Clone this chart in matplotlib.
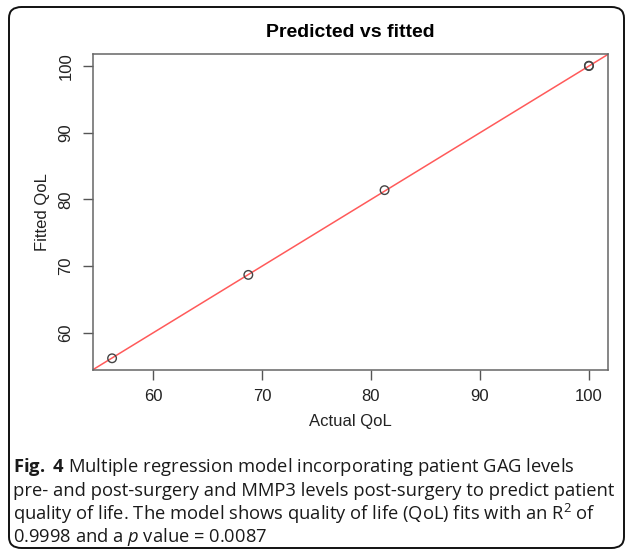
import matplotlib
matplotlib.use("Agg")
import matplotlib.pyplot as plt
from matplotlib.patches import FancyBboxPatch

# data
actual_qol = [56.25, 68.75, 81.25, 100.0, 100.0]
fitted_qol = [56.2, 68.7, 81.4, 100.0, 100.05]
x_ticks = [60, 70, 80, 90, 100]
y_ticks = [60, 70, 80, 90, 100]

title = "Predicted vs fitted"
x_label = "Actual QoL"
y_label = "Fitted QoL"

caption_lines = [
    r"$\bf{Fig.\ 4}$ Multiple regression model incorporating patient GAG levels",
    "pre- and post-surgery and MMP3 levels post-surgery to predict patient",
    r"quality of life. The model shows quality of life (QoL) fits with an R$^2$ of",
    r"0.9998 and a $\it{p}$ value = 0.0087",
]

plt.rcParams["font.family"] = ["Liberation Sans", "DejaVu Sans"]
# caption maths (bold Fig., superscript, italic p) in the caption font
plt.rcParams["mathtext.fontset"] = "custom"
plt.rcParams["mathtext.rm"] = "Open Sans"
plt.rcParams["mathtext.it"] = "Open Sans:italic"
plt.rcParams["mathtext.bf"] = "Open Sans:bold"

W, H = 627, 555
fig = plt.figure(figsize=(W / 100, H / 100), dpi=100)

# rounded frame around the whole figure
frame = FancyBboxPatch((9 / W, 7 / H), (W - 12) / W, (H - 14) / H,
                       boxstyle="round,pad=0,rounding_size=0.02",
                       transform=fig.transFigure, fill=False,
                       edgecolor="#111111", linewidth=1.4)
fig.patches.append(frame)

ax = fig.add_axes([93 / W, 1 - 370 / H, (608 - 93) / W, (370 - 54) / H])

# R style axis range (4% padding)
def r_range(v):
    lo, hi = min(v), max(v)
    pad = (hi - lo) * 0.04
    return lo - pad, hi + pad

ax.set_xlim(*r_range(actual_qol))
ax.set_ylim(*r_range(fitted_qol))

ax.axline((60, 60), slope=1, color="#ff5a5a", linewidth=1.1, zorder=1)
ax.scatter(actual_qol, fitted_qol, s=38, facecolors="none",
           edgecolors="#444444", linewidths=1.0, zorder=2)

ax.set_xticks(x_ticks)
ax.set_yticks(y_ticks)
ax.set_yticklabels([str(t) for t in y_ticks], rotation=90, va="center")
ax.tick_params(direction="out", length=7, width=1, color="#555555",
               labelsize=12, labelcolor="#222222", pad=7)
for s in ax.spines.values():
    s.set_color("#666666")
    s.set_linewidth(1.1)

ax.set_title(title, fontsize=14, fontweight="bold", pad=12)
ax.set_xlabel(x_label, fontsize=12, labelpad=7, color="#222222")
ax.set_ylabel(y_label, fontsize=12, labelpad=6, color="#222222")

# caption below the plot
for i, line in enumerate(caption_lines):
    fig.text(13 / W, 1 - (467 + i * 23.5) / H, line, fontsize=13.2,
             family="Open Sans", ha="left", va="center", color="#1a1a1a")

fig.savefig("out.png", dpi=100)
